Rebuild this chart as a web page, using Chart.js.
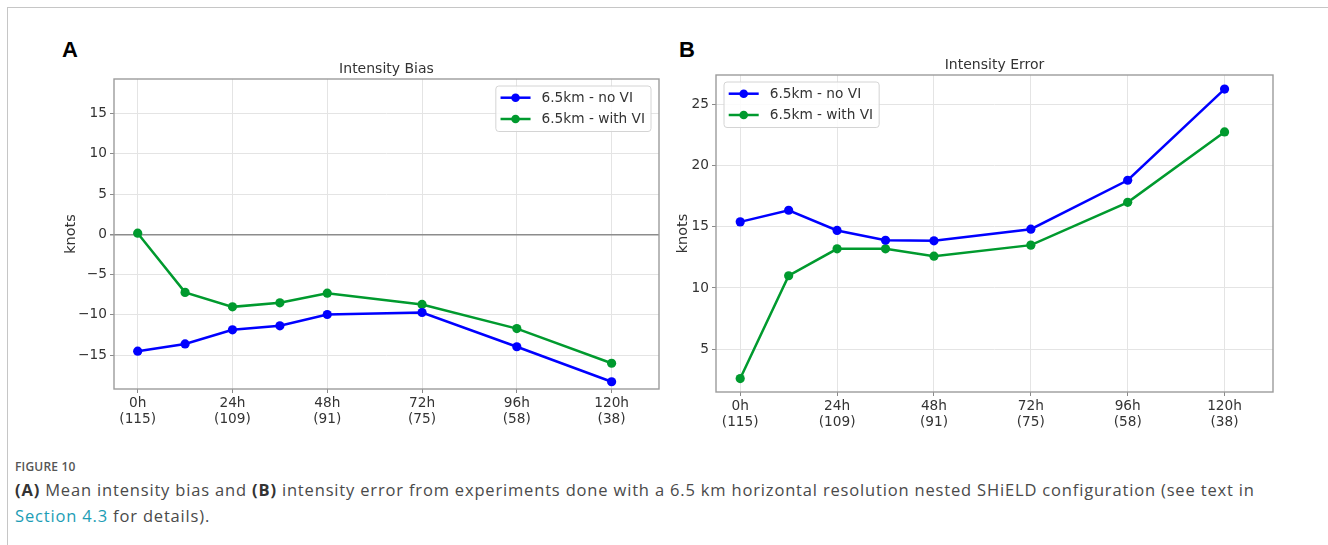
<!DOCTYPE html>
<html>
<head>
<meta charset="utf-8">
<script src="https://cdn.jsdelivr.net/npm/chart.js@4.4.1/dist/chart.umd.min.js"></script>
<style>
    body { margin: 0; width: 1328px; height: 545px; background: #fff; position: relative; overflow: hidden; }
    .frame { position: absolute; left: 7px; top: 7px; width: 1330px; height: 545px; border-left: 1.5px solid #c6c6c6; border-top: 1.5px solid #c6c6c6; }
    .tag { position: absolute; font: bold 22px "Liberation Sans", Arial, sans-serif; color: #000; }
    canvas { position: absolute; }
    .caption { position: absolute; left: 15px; top: 458px; font-family: "Open Sans", sans-serif; color: #4a4a4a; }
    .caption .fig { font-size: 12px; font-weight: 600; color: #555; letter-spacing: 0.2px; }
    .caption .txt { font-size: 16.5px; letter-spacing: 0.83px; line-height: 26px; margin-top: 2px; white-space: nowrap; }
    .caption b { color: #333; }
    .caption .link { color: #1c9db5; }
</style>
</head>
<body>
<div class="frame"></div>
<div class="tag" style="left:62px; top:37px;">A</div>
<div class="tag" style="left:679px; top:37px;">B</div>
<canvas id="biasChart" width="630" height="380" style="left:40px; top:50px;"></canvas>
<canvas id="errorChart" width="632" height="387" style="left:652px; top:46px;"></canvas>
<div class="caption">
    <div class="fig">FIGURE 10</div>
    <div class="txt"><b>(A)</b> Mean intensity bias and <b>(B)</b> intensity error from experiments done with a 6.5 km horizontal resolution nested SHiELD configuration (see text in<br><span class="link">Section 4.3</span> for details).</div>
</div>
<script>
"use strict";

// forecast lead times (h) and the labelled ticks with sample counts
const hours = [0, 12, 24, 36, 48, 72, 96, 120];
const tickHours = [0, 24, 48, 72, 96, 120];
const tickCounts = ['(115)', '(109)', '(91)', '(75)', '(58)', '(38)'];
const seriesNames = ['6.5km - no VI', '6.5km - with VI'];

// panel A: intensity bias (knots)
const biasNoVI = [-14.5, -13.6, -11.85, -11.35, -9.95, -9.7, -13.95, -18.3];
const biasWithVI = [0.15, -7.2, -9.0, -8.5, -7.3, -8.7, -11.7, -16.0];
const biasTicks = [-15, -10, -5, 0, 5, 10, 15];

// panel B: intensity error (knots)
const errorNoVI = [15.4, 16.35, 14.7, 13.9, 13.85, 14.8, 18.8, 26.25];
const errorWithVI = [2.6, 11.0, 13.2, 13.2, 12.6, 13.5, 17.0, 22.75];
const errorTicks = [5, 10, 15, 20, 25];

const FONT = '"DejaVu Sans", sans-serif';
const BLUE = '#0000ff';
const GREEN = '#009a2e';

function toPoints(values) {
    return hours.map((h, i) => ({ x: h, y: values[i] }));
}

function series(label, values, color) {
    return {
        label: label,
        data: toPoints(values),
        borderColor: color,
        backgroundColor: color,
        pointBackgroundColor: color,
        pointBorderWidth: 0,
        pointRadius: 4.6,
        borderWidth: 2.5,
        tension: 0
    };
}

// box around the plot, axes title and matplotlib-style legend
const framePlugin = {
    id: 'frame',
    beforeDatasetsDraw(chart) {
        const a = chart.chartArea;
        const ctx = chart.ctx;
        ctx.save();
        ctx.strokeStyle = '#9c9c9c';
        ctx.lineWidth = 1.4;
        ctx.strokeRect(a.left, a.top, a.right - a.left, a.bottom - a.top);
        ctx.restore();
    },
    afterDraw(chart, args, opts) {
        const a = chart.chartArea;
        const ctx = chart.ctx;
        ctx.save();
        ctx.fillStyle = '#333';
        ctx.font = '14px ' + FONT;
        ctx.textAlign = 'center';
        ctx.textBaseline = 'middle';
        ctx.fillText(opts.title, (a.left + a.right) / 2, a.top - 9.5);

        // legend
        ctx.font = '13.7px ' + FONT;
        const names = chart.data.datasets.map(d => d.label);
        const textW = Math.max(...names.map(n => ctx.measureText(n).width));
        const boxW = 4.7 + 30 + 11 + textW + 6;
        const boxH = 45.5;
        const x0 = opts.align === 'right' ? a.right - 8 - boxW : a.left + 8;
        const y0 = a.top + 7;
        ctx.beginPath();
        ctx.roundRect(x0, y0, boxW, boxH, 3);
        ctx.fillStyle = 'rgba(255,255,255,0.85)';
        ctx.fill();
        ctx.strokeStyle = '#d4d4d4';
        ctx.lineWidth = 1;
        ctx.stroke();
        chart.data.datasets.forEach((d, i) => {
            const y = y0 + 11.7 + i * 21.3;
            ctx.strokeStyle = d.borderColor;
            ctx.lineWidth = 2.5;
            ctx.beginPath();
            ctx.moveTo(x0 + 4.7, y);
            ctx.lineTo(x0 + 34.7, y);
            ctx.stroke();
            ctx.fillStyle = d.borderColor;
            ctx.beginPath();
            ctx.arc(x0 + 19.7, y, 4.3, 0, Math.PI * 2);
            ctx.fill();
            ctx.fillStyle = '#333';
            ctx.textAlign = 'left';
            ctx.fillText(d.label, x0 + 45.7, y + 0.5);
        });
        ctx.restore();
    }
};

function makeChart(canvas, datasets, yTicks, yMin, yMax, yWidth, title, legendAlign) {
    return new Chart(canvas, {
        type: 'line',
        data: { datasets: datasets },
        plugins: [framePlugin],
        options: {
            responsive: false,
            animation: false,
            events: [],
            layout: { padding: { top: 29, right: 11, left: 0, bottom: 0 } },
            plugins: {
                legend: { display: false },
                title: { display: false },
                tooltip: { enabled: false },
                frame: { title: title, align: legendAlign }
            },
            scales: {
                x: {
                    type: 'linear',
                    min: -6,
                    max: 132,
                    afterBuildTicks: scale => { scale.ticks = tickHours.map(v => ({ value: v })); },
                    afterFit: scale => { scale.height = 41; },
                    border: { display: false },
                    grid: { color: '#e4e4e4', lineWidth: 1, tickLength: 4, tickColor: '#8a8a8a' },
                    ticks: {
                        color: '#333',
                        padding: 3,
                        maxRotation: 0,
                        font: { family: FONT, size: 13.7, lineHeight: 1.15 },
                        callback: v => {
                            const i = tickHours.indexOf(v);
                            return [v + 'h', tickCounts[i]];
                        }
                    }
                },
                y: {
                    min: yMin,
                    max: yMax,
                    afterBuildTicks: scale => { scale.ticks = yTicks.map(v => ({ value: v })); },
                    afterFit: scale => { scale.width = yWidth; },
                    border: { display: false },
                    grid: {
                        color: c => c.tick && c.tick.value === 0 ? '#8c8c8c' : '#e4e4e4',
                        lineWidth: c => c.tick && c.tick.value === 0 ? 1.5 : 1,
                        tickLength: 4,
                        tickColor: '#8a8a8a'
                    },
                    title: {
                        display: true,
                        text: 'knots',
                        color: '#333',
                        font: { family: FONT, size: 14.5 },
                        padding: { top: 22.3, bottom: 0 }
                    },
                    ticks: {
                        color: '#333',
                        padding: 3,
                        font: { family: FONT, size: 13.7 },
                        callback: v => String(v).replace('-', '\u2212')
                    }
                }
            }
        }
    });
}

makeChart(document.getElementById('biasChart'),
    [series(seriesNames[0], biasNoVI, BLUE), series(seriesNames[1], biasWithVI, GREEN)],
    biasTicks, -19.2, 19.3, 74, 'Intensity Bias', 'right');

makeChart(document.getElementById('errorChart'),
    [series(seriesNames[0], errorNoVI, BLUE), series(seriesNames[1], errorWithVI, GREEN)],
    errorTicks, 1.5, 27.4, 64, 'Intensity Error', 'left');
</script>
</body>
</html>
